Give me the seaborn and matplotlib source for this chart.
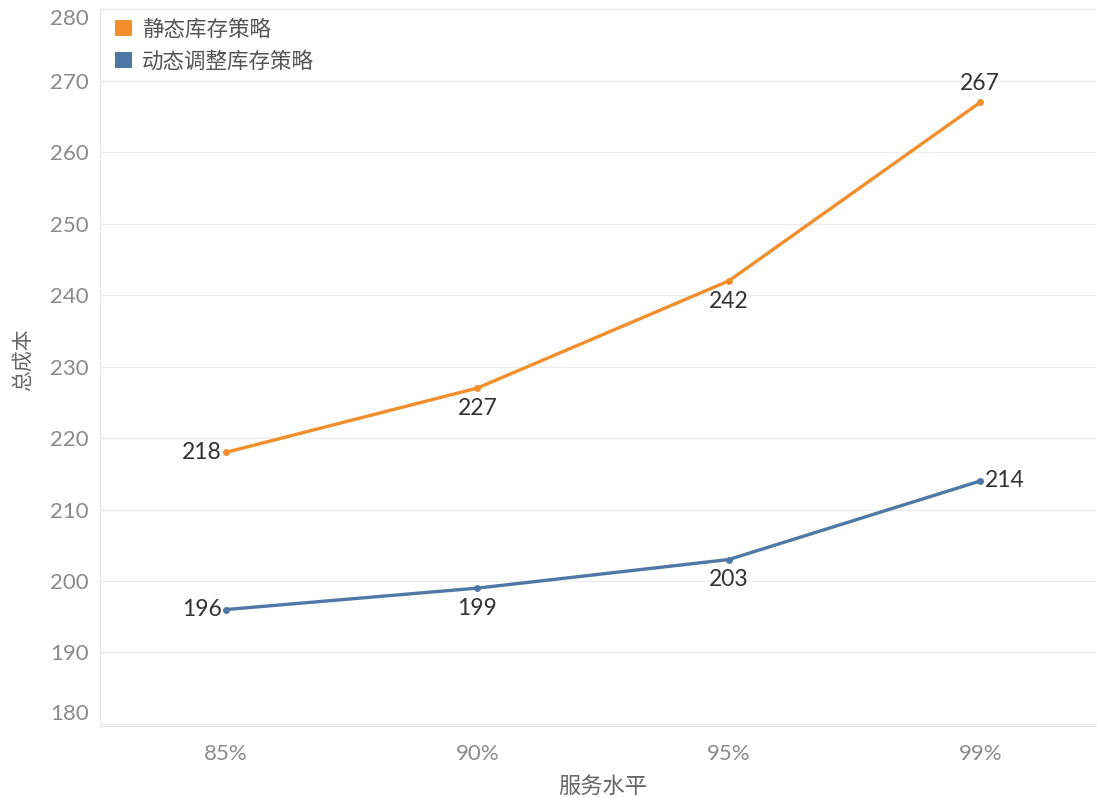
"""Total cost vs service level for two inventory strategies."""
import matplotlib.pyplot as plt
import pandas as pd
import seaborn as sns
from matplotlib.patches import Patch

service_levels = ["85%", "90%", "95%", "99%"]
static_cost = [218, 227, 242, 267]
dynamic_cost = [196, 199, 203, 214]
series_names = ["静态库存策略", "动态调整库存策略"]
y_ticks = [180, 190, 200, 210, 220, 230, 240, 250, 260, 270, 280]

colors = {"静态库存策略": "#F28E2B", "动态调整库存策略": "#4E79A7"}

sns.set_theme(style="white")
plt.rcParams["font.family"] = ["Lato", "Noto Sans CJK SC", "DejaVu Sans"]

df = pd.DataFrame({
    "服务水平": service_levels * 2,
    "总成本": static_cost + dynamic_cost,
    "策略": [series_names[0]] * 4 + [series_names[1]] * 4,
})

fig = plt.figure(figsize=(10.97, 7.98), dpi=100)
# plot area runs a little past the right edge, as in the source
ax = fig.add_axes([0.0912, 0.0902, 0.917, 0.8998])

sns.lineplot(data=df, x="服务水平", y="总成本", hue="策略", palette=colors,
             marker="o", markersize=5, markeredgewidth=0, linewidth=2.4,
             legend=False, ax=ax)

ax.set_xlim(-0.5, 3.5)
ax.set_ylim(179.7, 280.2)
ax.set_yticks(y_ticks)
ax.set_xticks(range(len(service_levels)))
ax.set_xticklabels(service_levels)
ax.set_xticks([0.5, 1.5, 2.5], minor=True)
ax.grid(axis="y", color="#ececec", linewidth=0.8)
ax.set_axisbelow(True)

for side in ["top", "right"]:
    ax.spines[side].set_visible(False)
for side in ["left", "bottom"]:
    ax.spines[side].set_color("#e6e6e6")
    ax.spines[side].set_linewidth(0.8)

ax.tick_params(axis="both", which="major", length=0, labelsize=16, labelcolor="#8a8a8a")
ax.tick_params(axis="y", pad=8)
ax.tick_params(axis="x", pad=13)
ax.tick_params(axis="x", which="minor", length=4, color="#e6e6e6", width=0.8)

for lab in ax.get_yticklabels():
    if lab.get_text() == "180":
        lab.set_va("bottom")
    elif lab.get_text() == "280":
        lab.set_va("top")

ax.set_xlabel("服务水平", fontsize=16, color="#666666",
              family=["Noto Sans CJK SC"], labelpad=8)
ax.set_ylabel("总成本", fontsize=15, color="#666666",
              family=["Noto Sans CJK SC"])
ax.yaxis.set_label_coords(-0.066, 0.51)

label_style = dict(fontsize=16.5, color="#333333")
static_pos = ["left", "below", "below", "above"]
dynamic_pos = ["left", "below", "below", "right"]
for values, positions in [(static_cost, static_pos), (dynamic_cost, dynamic_pos)]:
    for i, (v, where) in enumerate(zip(values, positions)):
        if where == "left":
            ax.annotate(str(v), (i, v), xytext=(-3, 0), textcoords="offset points",
                        ha="right", va="center", **label_style)
        elif where == "right":
            ax.annotate(str(v), (i, v), xytext=(3, 0), textcoords="offset points",
                        ha="left", va="center", **label_style)
        elif where == "below":
            ax.annotate(str(v), (i, v), xytext=(0, -7), textcoords="offset points",
                        ha="center", va="top", **label_style)
        else:
            ax.annotate(str(v), (i, v), xytext=(0, 6), textcoords="offset points",
                        ha="center", va="bottom", **label_style)

handles = [Patch(facecolor=colors[n], edgecolor="none", label=n) for n in series_names]
ax.legend(handles=handles, loc="upper left", bbox_to_anchor=(-0.004, 1.012),
          frameon=False, handlelength=0.75, handleheight=0.75, handletextpad=0.5,
          labelspacing=0.45, prop={"family": ["Noto Sans CJK SC"], "size": 15.5},
          labelcolor="#555555")

fig.savefig("out.png", dpi=100)
